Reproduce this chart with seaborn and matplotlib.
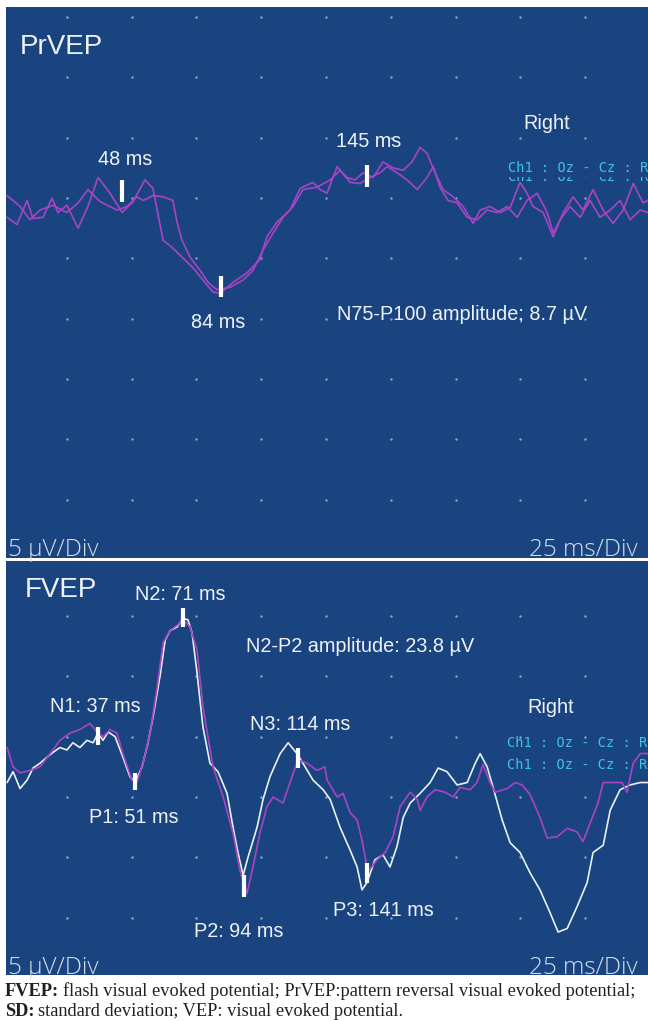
import matplotlib
matplotlib.use("Agg")
import matplotlib.pyplot as plt
import pandas as pd
import seaborn as sns

# ---------------- data (time in ms, amplitude in µV) ----------------
pr_t_a = [1.9, 5.7, 9.6, 11.9, 15.8, 19.2, 21.5, 25.0, 29.3, 33.1, 37.0, 41.6, 46.3, 50.5, 55.1,
          58.2, 62.1, 65.6, 69.4, 73.3, 77.5, 81.4, 84.1, 89.1, 94.5, 99.5, 102.2, 106.1, 111.1,
          115.0, 120.0, 122.7, 125.4, 129.3, 133.1, 136.2, 139.3, 143.2, 147.0, 150.9, 154.8,
          158.2, 161.3, 164.0, 167.1, 170.2, 174.1, 177.9, 181.8, 184.5, 188.3, 192.2, 196.1,
          199.9, 202.6, 204.9, 208.8, 212.7, 216.6, 220.4, 224.2, 228.1, 232.0, 235.8, 239.7,
          243.6, 247.4, 249.3]
pr_v_a = [-1.6, -2.2, -0.2, -1.7, -1.6, 0.0, -1.2, -0.6, -2.5, -0.7, 1.7, 0.4, -1.2, -0.3, 1.5,
          0.8, -3.5, -4.1, -4.9, -5.7, -6.8, -7.8, -7.9, -7.0, -6.2, -5.1, -3.2, -2.0, -1.0,
          0.8, 1.3, 0.7, 0.4, 2.6, 1.7, 1.5, 2.1, 1.7, 3.0, 2.5, 2.3,
          3.0, 4.2, 3.7, 2.1, 0.7, 0.1, -0.7, -2.1, -1.0, -0.7, -1.2, -0.8,
          1.3, 0.4, -0.7, -1.2, -3.2, -1.2, 0.1, -1.0, 0.7, -1.0, -2.1, -1.0,
          1.2, -0.4, -0.2]

pr_t_b = [1.9, 6.9, 10.7, 14.6, 19.6, 25.0, 29.3, 33.1, 37.8, 44.3, 48.2, 52.0, 54.4, 58.2, 62.1,
          65.9, 67.5, 69.4, 72.5, 76.4, 79.5, 82.9, 88.0, 93.0, 96.8, 100.7, 104.6, 108.4, 112.3,
          116.1, 121.5, 126.6, 130.4, 134.3, 138.1, 142.0, 145.9, 148.6, 152.4, 156.3, 160.2,
          164.0, 166.4, 169.0, 172.1, 175.6, 179.5, 183.3, 187.2, 191.0, 194.9, 198.8, 202.6,
          206.5, 210.4, 212.7, 215.4, 219.2, 223.1, 226.9, 230.8, 234.7, 238.5, 242.4, 246.3, 249.3]
pr_v_b = [0.2, -0.7, -1.8, -1.0, -0.6, -1.2, -0.4, 0.7, -0.3, -1.0, -0.7, 0.1, -0.2, 0.2, 0.1,
          -0.2, -2.0, -3.5, -4.9, -6.0, -7.0, -7.6, -7.4, -6.8, -6.0, -4.3, -2.9, -1.6, -0.7,
          0.7, 0.9, 1.5, 2.3, 1.3, 1.2, 1.7, 2.1, 2.6, 2.1, 1.5, 0.7,
          1.7, 2.6, 0.9, -0.2, -0.4, -1.6, -1.8, -1.0, -1.2, -0.7, -1.6, -0.2,
          0.4, -1.2, -2.9, -1.8, -0.7, -1.6, -0.2, -1.6, -1.0, -0.2, -1.8, -1.0, -1.2]

fv_t_w = [1.9, 4.2, 6.9, 9.6, 11.9, 14.6, 17.3, 19.6, 22.3, 25.0, 27.3, 30.0, 32.7, 35.1, 37.0,
          38.9, 40.9, 43.6, 46.6, 49.3, 51.3, 54.0, 56.3, 58.2, 60.9, 62.9, 64.8, 67.5, 69.8,
          71.7, 73.3, 75.2, 77.5, 80.2, 83.3, 86.8, 89.1, 91.0, 93.0, 94.9, 98.4, 100.7, 103.4,
          107.3, 110.4, 113.8, 116.1, 120.0, 123.9, 126.6, 130.4, 134.3, 137.0, 138.9, 140.8,
          143.9, 147.0, 149.7, 152.4, 154.8, 157.5, 161.3, 165.2, 168.3, 171.7, 175.6, 179.5,
          182.6, 184.5, 187.2, 189.5, 193.0, 196.1, 199.9, 203.8, 207.6, 211.5, 214.6, 218.1,
          221.9, 225.8, 228.1, 232.0, 234.7, 238.5, 242.4, 246.3, 249.3]
fv_v_w = [1.2, 2.1, 0.7, 1.4, 2.4, 2.8, 3.3, 3.7, 4.1, 3.9, 4.5, 4.1, 4.7, 4.5, 5.3,
          4.7, 5.4, 5.0, 3.3, 1.7, 1.2, 2.5, 4.5, 6.6, 10.0, 13.0, 13.8, 14.1, 14.8,
          14.7, 13.6, 10.3, 5.8, 2.8, 2.1, 0.3, -2.5, -4.6, -6.5, -5.0, -2.5, -0.2, 1.7,
          3.6, 4.5, 3.6, 2.8, 1.4, 0.6, -0.2, -2.5, -4.4, -5.8, -7.7, -7.1,
          -5.2, -4.8, -5.8, -4.1, -1.7, -0.5, 0.3, 1.2, 2.4, 2.1, 1.0, 1.2,
          2.8, 3.6, 2.5, 0.8, -1.9, -3.8, -4.6, -6.3, -7.7, -9.6, -11.2, -10.9,
          -9.1, -7.1, -4.6, -4.0, -1.1, 0.6, 1.0, 1.2, 1.2]

fv_t_p = [1.9, 4.2, 6.9, 10.7, 14.6, 18.5, 22.3, 26.2, 30.0, 33.9, 36.6, 38.9, 41.6, 44.3, 46.6,
          50.1, 52.0, 54.4, 57.1, 59.8, 62.1, 64.8, 67.9, 69.8, 72.5, 75.2, 77.5, 81.4, 85.3,
          89.1, 91.8, 94.5, 96.8, 99.5, 102.2, 104.6, 108.4, 111.1, 114.2, 117.7, 121.5, 124.6,
          125.4, 129.3, 131.6, 134.3, 137.0, 138.9, 141.2, 144.7, 147.8, 150.9, 153.6, 157.5,
          160.2, 161.3, 164.0, 167.1, 170.9, 174.1, 176.8, 180.6, 183.3, 185.6, 188.3, 190.3,
          194.9, 198.0, 200.7, 203.8, 207.6, 210.4, 214.2, 218.1, 221.9, 224.2, 226.9, 230.0,
          232.0, 235.8, 239.3, 241.2, 243.6, 246.3, 249.3]
fv_v_p = [4.1, 2.5, 2.0, 2.2, 2.5, 3.6, 4.7, 5.3, 5.6, 6.1, 5.4, 5.0, 5.6, 5.3, 3.6,
          1.4, 1.2, 2.8, 5.3, 9.1, 12.8, 13.8, 14.3, 14.7, 14.1, 12.2, 7.5, 2.5, 0.0,
          -3.0, -6.1, -8.0, -5.8, -3.0, -0.8, 0.0, -0.5, 1.2, 3.1, 2.8, 2.2, 2.5,
          1.4, 0.0, 0.3, -1.3, -1.9, -3.6, -6.2, -5.2, -4.6, -3.3, -0.8, 0.4,
          -0.2, -1.1, 0.0, 0.6, 0.4, 0.0, 0.8, 0.6, 1.2, 2.7, 1.2, 0.4,
          0.7, 1.2, 1.0, 0.2, -1.7, -3.4, -3.3, -2.6, -2.9, -3.7, -2.2, -0.5,
          1.2, 1.2, 1.2, 0.4, 2.8, 3.6, 3.6]

# latency cursors (time, lower amplitude, upper amplitude)
pr_mark_t = [46.3, 84.5, 140.8]
pr_mark_lo = [-0.3, -8.2, 0.9]
pr_mark_hi = [1.5, -6.5, 2.7]
fv_mark_t = [37.0, 69.8, 51.3, 93.4, 114.2, 140.8]
fv_mark_lo = [4.3, 14.1, 0.6, -8.3, 2.4, -7.1]
fv_mark_hi = [5.8, 15.7, 2.0, -6.5, 4.1, -5.5]

grid_t = [25, 50, 75, 100, 125, 150, 175, 200, 225]
pr_grid_v = [-25, -20, -15, -10, -5, 0, 5, 10, 15]
fv_grid_v = [-10, -5, 0, 5, 10, 15]

# ---------------- styling ----------------
BG = "#1a4480"
PURPLE = "#a844c4"
WHITE_TRACE = "#e8f2f2"
TXT = "#eef2f6"
SCALE_TXT = "#d4dee8"
CYAN = "#3cc4e4"
DOT = "#8ea8c6"

sns.set_theme(style="white")
plt.rcParams["font.family"] = ["Liberation Sans", "DejaVu Sans"]

W, H = 648, 1021
fig = plt.figure(figsize=(W / 100, H / 100), dpi=100)
fig.patch.set_facecolor("white")


def rect(x0, y0, x1, y1):
    return [x0 / W, 1 - y1 / H, (x1 - x0) / W, (y1 - y0) / H]


def ftext(x, y, s, **kw):
    return fig.text(x / W, 1 - y / H, s, va="baseline", ha="left", **kw)


ax1 = fig.add_axes(rect(6, 7, 648, 558))
ax2 = fig.add_axes(rect(6, 561, 648, 975))

for ax, gv in ((ax1, pr_grid_v), (ax2, fv_grid_v)):
    ax.set_facecolor(BG)
    for s in ax.spines.values():
        s.set_visible(False)
    ax.set_xticks([])
    ax.set_yticks([])
    gx = [t for t in grid_t for _ in gv]
    gy = [v for _ in grid_t for v in gv]
    ax.scatter(gx, gy, s=3, color=DOT, linewidths=0, zorder=1)

# top panel traces
df_pr = pd.concat([
    pd.DataFrame({"t": pr_t_a, "v": pr_v_a, "trace": "A"}),
    pd.DataFrame({"t": pr_t_b, "v": pr_v_b, "trace": "B"}),
])
sns.lineplot(data=df_pr, x="t", y="v", units="trace", estimator=None, sort=False,
             color=PURPLE, lw=1.2, ax=ax1, zorder=3)

# bottom panel traces
sns.lineplot(x=fv_t_w, y=fv_v_w, estimator=None, sort=False, color=WHITE_TRACE, lw=1.2,
             ax=ax2, zorder=3)
sns.lineplot(x=fv_t_p, y=fv_v_p, estimator=None, sort=False, color=PURPLE, lw=1.2,
             ax=ax2, zorder=4)

ax1.vlines(pr_mark_t, pr_mark_lo, pr_mark_hi, color="white", lw=3, zorder=5)
ax2.vlines(fv_mark_t, fv_mark_lo, fv_mark_hi, color="white", lw=3, zorder=5)

ax1.set_xlim(1.47, 249.3)
ax1.set_ylim(-29.85, 15.84)
ax2.set_xlim(1.47, 249.3)
ax2.set_ylim(-14.76, 19.57)
for ax in (ax1, ax2):
    ax.set_xlabel("")
    ax.set_ylabel("")
    leg = ax.get_legend()
    if leg is not None:
        leg.remove()

LBL = 14.3
MONO = ["DejaVu Sans Mono"]
SCALEF = ["Open Sans", "DejaVu Sans"]
# top panel texts
ftext(20, 54, "PrVEP", fontsize=20, color=TXT)
ftext(98, 165, "48 ms", fontsize=LBL, color=TXT)
ftext(336, 147, "145 ms", fontsize=LBL, color=TXT)
ftext(191, 328, "84 ms", fontsize=LBL, color=TXT)
ftext(337, 320, "N75-P100 amplitude; 8.7 µV", fontsize=LBL, color=TXT)
ftext(523, 129, "Right", fontsize=LBL, color=TXT)
ftext(508, 181, "Ch1 : Oz - Cz : R", fontsize=9.8, color=CYAN, family=MONO)
ftext(508, 172, "Ch1 : Oz - Cz : R", fontsize=9.8, color=CYAN, family=MONO,
      bbox=dict(facecolor=BG, edgecolor="none", pad=1.2))
ftext(8, 556, "5 µV/Div", fontsize=17.5, color=SCALE_TXT, family=SCALEF, fontweight="light")
ftext(529, 556, "25 ms/Div", fontsize=17.5, color=SCALE_TXT, family=SCALEF, fontweight="light")

# bottom panel texts
ftext(25, 597, "FVEP", fontsize=20, color=TXT)
ftext(135, 600, "N2: 71 ms", fontsize=LBL, color=TXT)
ftext(246, 652, "N2-P2 amplitude: 23.8 µV", fontsize=LBL, color=TXT)
ftext(50, 712, "N1: 37 ms", fontsize=LBL, color=TXT)
ftext(250, 730, "N3: 114 ms", fontsize=LBL, color=TXT)
ftext(527, 713, "Right", fontsize=LBL, color=TXT)
ftext(507, 747, "Ch1 : Oz - Cz : R", fontsize=9.8, color=CYAN, family=MONO)
ftext(507, 769, "Ch1 : Oz - Cz : R", fontsize=9.8, color=CYAN, family=MONO)
ftext(89, 823, "P1: 51 ms", fontsize=LBL, color=TXT)
ftext(194, 937, "P2: 94 ms", fontsize=LBL, color=TXT)
ftext(333, 916, "P3: 141 ms", fontsize=LBL, color=TXT)
ftext(8, 974, "5 µV/Div", fontsize=17.5, color=SCALE_TXT, family=SCALEF, fontweight="light")
ftext(529, 974, "25 ms/Div", fontsize=17.5, color=SCALE_TXT, family=SCALEF, fontweight="light")

# caption
renderer = fig.canvas.get_renderer()
CAP = 13.2
serif = ["Liberation Serif", "DejaVu Serif"]
INK = "#231f20"
b1 = ftext(5, 996, "FVEP:", fontsize=CAP, fontweight="bold", color=INK, family=serif)
x1 = b1.get_window_extent(renderer=renderer).x1
ftext(x1 + 4, 996, "flash visual evoked potential; PrVEP:pattern reversal visual evoked potential;",
      fontsize=CAP, color=INK, family=serif)
b2 = ftext(5, 1016, "SD:", fontsize=CAP, fontweight="bold", color=INK, family=serif)
x2 = b2.get_window_extent(renderer=renderer).x1
ftext(x2 + 4, 1016, "standard deviation; VEP: visual evoked potential.",
      fontsize=CAP, color=INK, family=serif)

fig.savefig("out.png", dpi=100, facecolor="white")
